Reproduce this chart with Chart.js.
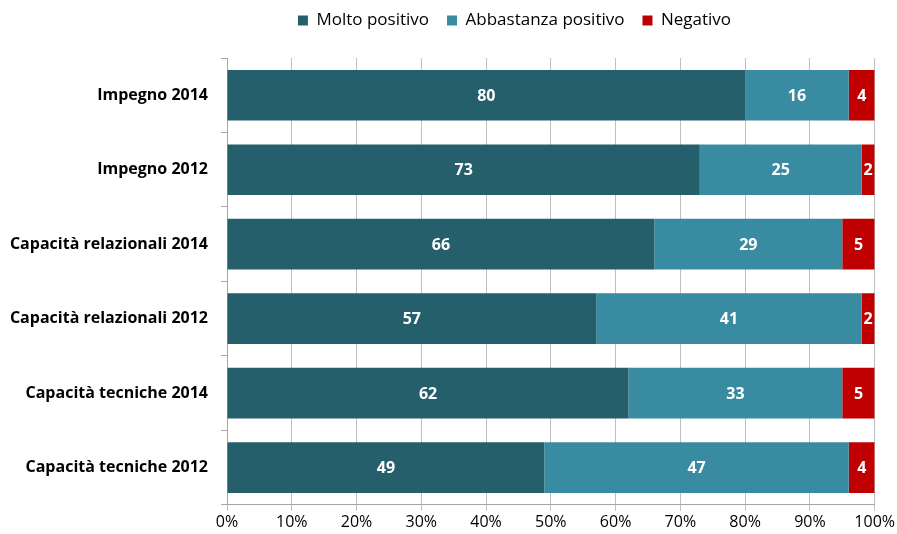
<!DOCTYPE html>
<html>
<head>
<meta charset="utf-8">
<script src="https://cdn.jsdelivr.net/npm/chart.js@4/dist/chart.umd.min.js"></script>
<style>
  html, body { margin: 0; padding: 0; background: #ffffff; }
  #wrap { width: 897px; height: 534px; }
</style>
</head>
<body>
<div id="wrap"><canvas id="c" width="897" height="534"></canvas></div>
<script>
const categories = [
  'Impegno 2014',
  'Impegno 2012',
  'Capacità relazionali 2014',
  'Capacità relazionali 2012',
  'Capacità tecniche 2014',
  'Capacità tecniche 2012'
];
const seriesNames = ['Molto positivo', 'Abbastanza positivo', 'Negativo'];
const moltoPositivo = [80, 73, 66, 57, 62, 49];
const abbastanzaPositivo = [16, 25, 29, 41, 33, 47];
const negativo = [4, 2, 5, 2, 5, 4];
const xTicks = [0, 10, 20, 30, 40, 50, 60, 70, 80, 90, 100];

const colors = ['#265F6C', '#388BA1', '#C00000'];
const FONT = '"Open Sans", Lato, "Liberation Sans", sans-serif';

// Writes each segment's value in white at the centre of its bar
const valueLabels = {
  id: 'valueLabels',
  afterDatasetsDraw(chart) {
    const ctx = chart.ctx;
    ctx.save();
    ctx.fillStyle = '#ffffff';
    ctx.font = 'bold 16px ' + FONT;
    ctx.textAlign = 'center';
    ctx.textBaseline = 'middle';
    chart.data.datasets.forEach((ds, i) => {
      const meta = chart.getDatasetMeta(i);
      meta.data.forEach((bar, j) => {
        const v = ds.data[j];
        const cx = (bar.x + bar.base) / 2;
        ctx.fillText(String(v), cx, bar.y + 1);
      });
    });
    ctx.restore();
  }
};

// Leaves extra room under the legend and shifts it right and up a little
const legendPlace = {
  id: 'legendPlace',
  beforeInit(chart) {
    const legend = chart.legend;
    const fit = legend.fit;
    legend.fit = function () {
      fit.call(this);
      this.height += 13;
    };
    const draw = legend.draw;
    legend.draw = function () {
      const ctx = this.ctx;
      ctx.save();
      ctx.translate(66, -6);
      draw.call(this);
      ctx.restore();
    };
  }
};

new Chart(document.getElementById('c'), {
  type: 'bar',
  data: {
    labels: categories,
    datasets: [
      { label: seriesNames[0], data: moltoPositivo, backgroundColor: colors[0] },
      { label: seriesNames[1], data: abbastanzaPositivo, backgroundColor: colors[1] },
      { label: seriesNames[2], data: negativo, backgroundColor: colors[2] }
    ]
  },
  options: {
    indexAxis: 'y',
    responsive: false,
    animation: false,
    layout: { padding: { left: 0, right: 0, top: 0, bottom: 0 } },
    datasets: { bar: { categoryPercentage: 1, barPercentage: 0.68, borderWidth: 0 } },
    scales: {
      x: {
        stacked: true,
        min: 0,
        max: 100,
        afterBuildTicks(scale) { scale.ticks = xTicks.map(v => ({ value: v })); },
        ticks: {
          callback: v => v + '%',
          color: '#000000',
          font: { family: FONT, size: 16 },
          padding: 2,
          maxRotation: 0
        },
        grid: { color: '#BFBFBF', lineWidth: 1, tickLength: 6, drawTicks: true },
        border: { color: '#A6A6A6' }
      },
      y: {
        stacked: true,
        afterFit(scale) { scale.width = 227; },
        ticks: {
          color: '#000000',
          font: { family: FONT, size: 16, weight: 'bold' },
          padding: 13
        },
        grid: { drawOnChartArea: false, offset: true, tickLength: 6, color: '#A6A6A6' },
        border: { color: '#A6A6A6' }
      }
    },
    plugins: {
      legend: {
        position: 'top',
        labels: {
          color: '#000000',
          font: { family: FONT, size: 17 },
          boxWidth: 10,
          boxHeight: 10,
          padding: 18
        }
      },
      tooltip: { enabled: false }
    }
  },
  plugins: [legendPlace, valueLabels]
});
</script>
</body>
</html>
